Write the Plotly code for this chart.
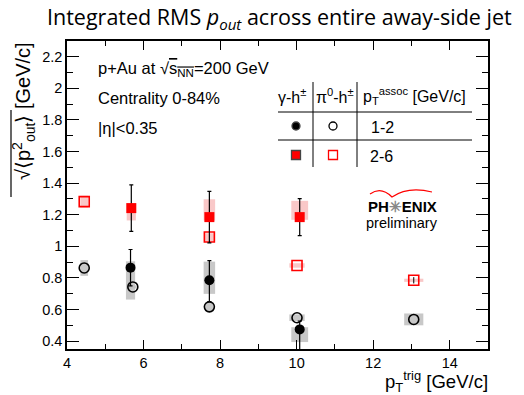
import plotly.graph_objects as go

# ---------------- data ----------------
# gamma-h (filled black circles), pT assoc 1-2
g12_x = [5.66, 7.72, 10.08]
g12_y = [0.865, 0.785, 0.474]
g12_eplus = [0.115, 0.125, 0.052]
g12_eminus = [0.115, 0.135, 0.13]
g12_sys_lo = [0.663, 0.699, 0.394]
g12_sys_hi = [0.905, 0.903, 0.488]
g12_sys_hw = [0.12, 0.15, 0.22]

# pi0-h (open black circles), pT assoc 1-2
p12_x = [4.45, 5.72, 7.72, 10.01, 13.06]
p12_y = [0.863, 0.743, 0.617, 0.548, 0.537]
p12_sys_lo = [0.813, 0.733, 0.589, 0.527, 0.500]
p12_sys_hi = [0.913, 0.753, 0.642, 0.569, 0.575]
p12_sys_hw = [0.10, 0.10, 0.11, 0.20, 0.25]

# gamma-h (filled red squares), pT assoc 2-6
g26_x = [5.68, 7.72, 10.08]
g26_y = [1.242, 1.185, 1.185]
g26_err = [0.147, 0.163, 0.117]
g26_sys_lo = [1.164, 1.163, 1.168]
g26_sys_hi = [1.274, 1.298, 1.288]
g26_sys_hw = [0.12, 0.15, 0.22]

# pi0-h (open red squares), pT assoc 2-6
p26_x = [4.45, 7.72, 10.01, 13.06]
p26_y = [1.283, 1.059, 0.879, 0.785]
p26_err = [0.0, 0.0, 0.0, 0.02]
p26_sys_lo = [1.246, 1.030, 0.865, 0.775]
p26_sys_hi = [1.320, 1.083, 0.893, 0.795]
p26_sys_hw = [0.10, 0.13, 0.20, 0.25]

x_ticks = [4, 6, 8, 10, 12, 14]
y_ticks = [0.4, 0.6, 0.8, 1.0, 1.2, 1.4, 1.6, 1.8, 2.0, 2.2]
y_ticklabels = ["0.4", "0.6", "0.8", "1", "1.2", "1.4", "1.6", "1.8", "2", "2.2"]

# ---------------- layout geometry ----------------
W, H = 524, 395
L, R, T, B = 67, 488, 41, 349  # plot area in pixels


def px(xp):
    return (xp - L) / (R - L)


def py(yp):
    return (B - yp) / (B - T)


FONT = "Liberation Sans"
PINK = "rgba(248,190,190,0.85)"
GRAY = "rgba(190,190,190,0.85)"

fig = go.Figure()

shapes = []


def add_boxes(xs, lo, hi, hw, color):
    for x, l, h, w in zip(xs, lo, hi, hw):
        shapes.append(dict(type="rect", xref="x", yref="y", x0=x - w, x1=x + w,
                           y0=l, y1=h, fillcolor=color, line=dict(width=0),
                           layer="below"))


add_boxes(g12_x, g12_sys_lo, g12_sys_hi, g12_sys_hw, GRAY)
add_boxes(p12_x, p12_sys_lo, p12_sys_hi, p12_sys_hw, GRAY)
add_boxes(g26_x, g26_sys_lo, g26_sys_hi, g26_sys_hw, PINK)
add_boxes(p26_x, p26_sys_lo, p26_sys_hi, p26_sys_hw, PINK)

fig.add_trace(go.Scatter(
    x=p26_x, y=p26_y, mode="markers",
    marker=dict(symbol="square-open", size=10, color="red", line=dict(width=1.6)),
    error_y=dict(type="data", array=p26_err, color="black", thickness=1, width=0),
    showlegend=False))
fig.add_trace(go.Scatter(
    x=g26_x, y=g26_y, mode="markers",
    marker=dict(symbol="square", size=10, color="red"),
    error_y=dict(type="data", array=g26_err, color="black", thickness=1.2, width=2),
    showlegend=False))
fig.add_trace(go.Scatter(
    x=g12_x, y=g12_y, mode="markers",
    marker=dict(symbol="circle", size=10, color="black"),
    error_y=dict(type="data", array=g12_eplus, arrayminus=g12_eminus,
                 color="black", thickness=1.2, width=2),
    showlegend=False))
fig.add_trace(go.Scatter(
    x=p12_x, y=p12_y, mode="markers",
    marker=dict(symbol="circle-open", size=10, color="black", line=dict(width=1.6)),
    showlegend=False))

# ---------------- legend table ----------------
lines = [
    (313, 82, 313, 167), (357, 82, 357, 167),
    (278, 112, 472, 112), (278, 140, 472, 140),
]
for x0, y0, x1, y1 in lines:
    shapes.append(dict(type="line", xref="paper", yref="paper",
                       x0=px(x0), x1=px(x1), y0=py(y0), y1=py(y1),
                       line=dict(color="black", width=1)))

# PHENIX arc
shapes.append(dict(type="path", xref="paper", yref="paper",
                   path=f"M {px(370)} {py(194)} Q {px(381)} {py(186)} {px(392)} {py(197)} "
                        f"Q {px(408)} {py(186)} {px(432)} {py(192)}",
                   line=dict(color="red", width=1.2)))

# overline of the square root in the y title
shapes.append(dict(type="line", xref="paper", yref="paper",
                   x0=px(11), x1=px(11), y0=py(110), y1=py(197),
                   line=dict(color="black", width=1.2)))


def data_from_px(xp, yp):
    xd = 4 + (xp - L) / (R - L) * 11
    yd = 0.35 + (B - yp) / (B - T) * 1.95
    return xd, yd


legend_marks = [
    (296, 126, "circle", "black", 8),
    (333, 126, "circle-open", "black", 8),
    (296, 155, "square", "red", 9),
    (333, 155, "square-open", "red", 9),
]
for xp_, yp_, sym, col, sz in legend_marks:
    xd, yd = data_from_px(xp_, yp_)
    fig.add_trace(go.Scatter(x=[xd], y=[yd], mode="markers",
                             marker=dict(symbol=sym, size=sz, color=col, line=dict(width=1.3)),
                             showlegend=False, hoverinfo="skip"))

annotations = []


def txt(text, xp_, yp_, size=16, xanchor="left", yanchor="middle", font=FONT, angle=0):
    annotations.append(dict(text=text, xref="paper", yref="paper", x=px(xp_), y=py(yp_),
                            xanchor=xanchor, yanchor=yanchor, showarrow=False,
                            textangle=angle,
                            font=dict(family=font, size=size, color="black")))


txt("p+Au at √<span style='text-decoration:overline'>s<sub>NN</sub></span>=200 GeV", 96, 69, size=16.5)
txt("Centrality 0-84%", 96, 98, size=16.5)
txt("|η|<0.35", 96, 128, size=16.5)
txt("γ-h<sup>±</sup>", 292, 96, xanchor="center")
txt("π<sup>0</sup>-h<sup>±</sup>", 335, 96, xanchor="center")
txt("p<sub>T</sub><sup>assoc</sup> [GeV/c]", 361, 96)
txt("1-2", 369, 127)
txt("2-6", 368, 156)
txt("<b>PH<span style='color:#888'>✳</span>ENIX</b>", 402, 206, size=15, xanchor="center")
txt("preliminary", 402, 223, size=14.5, xanchor="center")

# axis titles
txt("p<sub>T</sub><sup>trig</sup> [GeV/c]", 490, 381, size=18.5, xanchor="right")
annotations.append(dict(text="√⟨p<sup>2</sup><sub>out</sub>⟩ [GeV/c]", xref="paper", yref="paper",
                        x=px(23), y=py(40), xanchor="center", yanchor="top",
                        textangle=-90, showarrow=False,
                        font=dict(family=FONT, size=20, color="black")))

# title
annotations.append(dict(text="Integrated RMS <i>p<sub>out</sub></i> across entire away-side jet",
                        xref="paper", yref="paper", x=px(279), y=py(18),
                        xanchor="center", yanchor="middle", showarrow=False,
                        font=dict(family="Open Sans", size=21.5, color="black")))

axis_common = dict(
    showgrid=False, zeroline=False, showline=True, linecolor="black", linewidth=1.5,
    mirror="ticks", ticks="inside", tickcolor="black", tickwidth=1.2,
    tickfont=dict(family=FONT, size=14.5, color="black"),
)

fig.update_layout(
    width=W, height=H,
    margin=dict(l=L, r=W - R, t=T, b=H - B, pad=0),
    paper_bgcolor="white", plot_bgcolor="white",
    shapes=shapes, annotations=annotations,
    xaxis=dict(range=[4, 15], tickvals=x_ticks, ticklen=9,
               minor=dict(dtick=1, tick0=4, ticklen=5, ticks="inside", tickcolor="black"),
               **axis_common),
    yaxis=dict(range=[0.35, 2.3], tickvals=y_ticks, ticktext=y_ticklabels, ticklen=12,
               minor=dict(dtick=0.1, tick0=0.3, ticklen=6, ticks="inside", tickcolor="black"),
               **axis_common),
)

fig.write_html("out.html", config={"displayModeBar": False},
               post_script="document.body.style.margin='0';document.body.style.padding='0';")
